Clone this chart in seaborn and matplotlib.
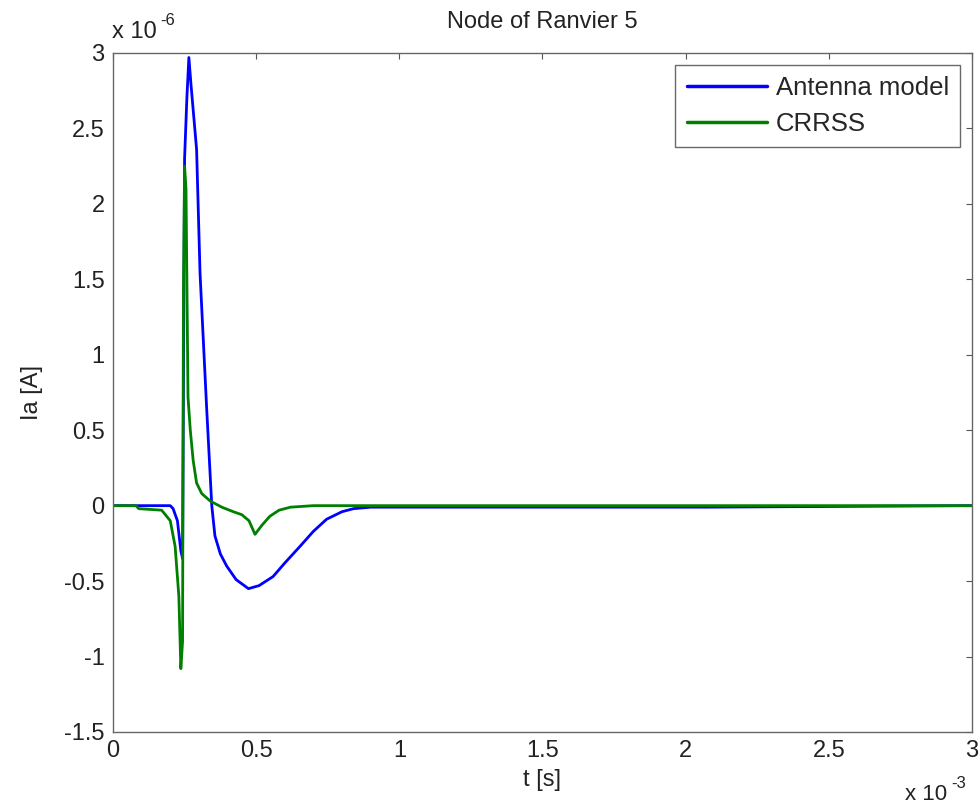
import numpy as np
import pandas as pd
import matplotlib
matplotlib.use('Agg')
import matplotlib.pyplot as plt
import seaborn as sns

# time in ms (x 10^-3 s), current in uA (x 10^-6 A)
t_antenna = [0, 0.2, 0.21, 0.225, 0.237, 0.243, 0.25, 0.258, 0.265, 0.272, 0.292, 0.304,
             0.327, 0.345, 0.356, 0.375, 0.397, 0.43, 0.473, 0.51, 0.559, 0.6, 0.653,
             0.7, 0.746, 0.8, 0.84, 0.9, 1.2, 2.07, 3.0]
ia_antenna = [0, 0, -0.02, -0.1, -0.3, -0.35, 2.3, 2.7, 2.97, 2.8, 2.36, 1.54,
              0.65, 0.0, -0.2, -0.32, -0.40, -0.49, -0.55, -0.53, -0.47, -0.38, -0.27,
              -0.17, -0.09, -0.04, -0.02, -0.01, -0.01, -0.01, 0.0]

t_crrss = [0, 0.08, 0.09, 0.17, 0.2, 0.217, 0.23, 0.237, 0.243, 0.246, 0.25, 0.255,
           0.262, 0.27, 0.28, 0.292, 0.31, 0.34, 0.38, 0.42, 0.45, 0.475, 0.496,
           0.52, 0.548, 0.58, 0.62, 0.7, 3.0]
ia_crrss = [0, 0, -0.02, -0.03, -0.1, -0.27, -0.6, -1.08, -0.9, 1.39, 2.25, 2.1,
            0.72, 0.5, 0.3, 0.15, 0.08, 0.03, -0.01, -0.04, -0.06, -0.1, -0.19,
            -0.13, -0.07, -0.03, -0.01, 0.0, 0.0]

df = pd.concat([
    pd.DataFrame({'t': t_antenna, 'Ia': ia_antenna, 'model': 'Antenna model'}),
    pd.DataFrame({'t': t_crrss, 'Ia': ia_crrss, 'model': 'CRRSS'}),
], ignore_index=True)

sns.set_style('white')
plt.rcParams['font.family'] = ['Liberation Sans', 'DejaVu Sans']
plt.rcParams['axes.unicode_minus'] = False

fs = 17
txt = '#222222'

fig = plt.figure(figsize=(9.8, 8.1), dpi=100)
ax = fig.add_axes([0.1153, 0.0963, 0.8765, 0.8383])

sns.lineplot(data=df, x='t', y='Ia', hue='model', sort=False, estimator=None,
             palette={'Antenna model': '#0000ff', 'CRRSS': '#008000'},
             linewidth=2.0, ax=ax)

ax.set_xlim(0, 3)
ax.set_ylim(-1.5, 3)
ax.set_xticks(np.arange(0, 3.01, 0.5))
ax.set_yticks(np.arange(-1.5, 3.01, 0.5))
ax.set_xticklabels(['0', '0.5', '1', '1.5', '2', '2.5', '3'])
ax.set_yticklabels(['-1.5', '-1', '-0.5', '0', '0.5', '1', '1.5', '2', '2.5', '3'])
ax.tick_params(direction='in', length=4, width=0.8, top=True, right=True,
               labelsize=fs, colors='#555555', labelcolor=txt, pad=6)
for s in ax.spines.values():
    s.set_color('#666666')
    s.set_linewidth(1.0)

ax.set_xlabel('t [s]', fontsize=fs, color=txt, labelpad=5)
ax.set_ylabel('Ia [A]', fontsize=fs, color=txt, labelpad=15)
ax.set_title('Node of Ranvier 5', fontsize=fs, color=txt, pad=18)

# MATLAB-style exponent labels
fig.text(0.114, 0.953, 'x 10', fontsize=17, color=txt, ha='left', va='baseline')
fig.text(0.164, 0.969, '-6', fontsize=12, color=txt, ha='left', va='baseline')
fig.text(0.923, 0.012, 'x 10', fontsize=16, color=txt, ha='left', va='baseline')
fig.text(0.971, 0.027, '-3', fontsize=12, color=txt, ha='left', va='baseline')

leg = ax.legend(loc='upper right', fontsize=18.5, frameon=True, fancybox=False,
                borderaxespad=0.45, borderpad=0.45, handlelength=3.1,
                handletextpad=0.35, labelspacing=0.45)
leg.get_frame().set_edgecolor('#444444')
leg.get_frame().set_linewidth(1.0)
for line in leg.get_lines():
    line.set_linewidth(2.5)

fig.savefig('out.png', dpi=100)
